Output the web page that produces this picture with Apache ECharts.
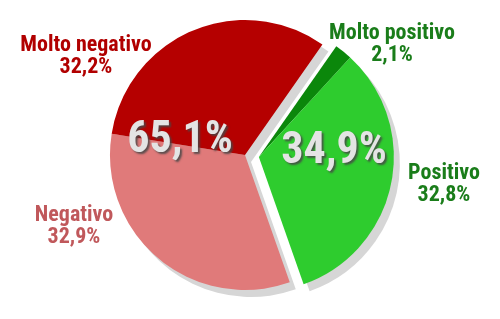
<!DOCTYPE html>
<html><head><meta charset="utf-8">
<script src="https://cdn.jsdelivr.net/npm/echarts@6/dist/echarts.min.js"></script>
<style>html,body{margin:0;padding:0;background:#fff}#c{width:500px;height:319px}</style>
</head><body><div id="c"></div>
<script>
// Data
var categories = ['Molto positivo', 'Positivo', 'Negativo', 'Molto negativo'];
var values = [2.1, 32.8, 32.9, 32.2];
var groupNames = ['Positivi', 'Negativi'];
var groupTotals = [34.9, 65.1];
var sliceColors = ['#0b870b', '#2ecc2e', '#e07a7a', '#b50000'];
var labelColors = ['#1a7d1a', '#1a7d1a', '#c0585b', '#b10000'];
var isPositive = [true, true, false, false];

var fmt = function (v) { return v.toFixed(1).replace('.', ','); };
var FONT = '"Roboto Condensed","Liberation Sans Narrow",sans-serif';

var CX = 245, CY = 155, R = 135;
var START = 55;
var OFF = 14;                // explode distance of positive group
var SX = 6, SY = 7;          // shadow offset
var posSum = values[0] + values[1];
var midDeg = (90 - START) + posSum / 100 * 180; // clockwise from top
var midRad = midDeg * Math.PI / 180;
var PCX = CX + OFF * Math.sin(midRad), PCY = CY - OFF * Math.cos(midRad);

// label anchor positions (text only), by category index / group index
var labelPos = [[392, 44], [444, 184], [74, 226], [86, 56]];
var totalPos = [[334, 152], [180, 141]];

function sliceData(showPositive) {
  return categories.map(function (c, i) {
    var visible = isPositive[i] === showPositive;
    return {
      name: c, value: values[i],
      itemStyle: { color: visible ? sliceColors[i] : 'rgba(0,0,0,0)' },
      label: visible ? {
        show: true,
        formatter: c + '\n' + fmt(values[i]) + '%',
        color: labelColors[i], fontFamily: FONT, fontWeight: 'bold',
        fontSize: 22, lineHeight: 22, align: 'center'
      } : { show: false }
    };
  });
}
function shadowData(showPositive) {
  return [
    { name: groupNames[0], value: groupTotals[0], itemStyle: { color: showPositive ? '#d6d6d6' : 'rgba(0,0,0,0)' } },
    { name: groupNames[1], value: groupTotals[1], itemStyle: { color: showPositive ? 'rgba(0,0,0,0)' : '#d6d6d6' } }
  ];
}
function layoutFn(arr) {
  return function (p) {
    var pos = arr[p.dataIndex];
    if (!pos) return {};
    return { x: pos[0], y: pos[1], align: 'center', verticalAlign: 'middle' };
  };
}
var base = { type: 'pie', radius: R, startAngle: START, clockwise: true, animation: false, silent: true,
  labelLine: { show: false }, emphasis: { disabled: true }, minAngle: 0, avoidLabelOverlap: false };

var chart = echarts.init(document.getElementById('c'), null, { renderer: 'canvas' });
chart.setOption({
  backgroundColor: '#ffffff',
  series: [
    Object.assign({}, base, { z: 1, center: [CX + SX, CY + SY], data: shadowData(false), label: { show: false } }),
    Object.assign({}, base, { z: 1, center: [PCX + SX, PCY + SY], data: shadowData(true), label: { show: false } }),
    Object.assign({}, base, { z: 2, center: [CX, CY], data: sliceData(false), label: { position: 'outside' }, labelLayout: layoutFn(labelPos) }),
    Object.assign({}, base, { z: 3, center: [PCX, PCY], data: sliceData(true), label: { position: 'outside' }, labelLayout: layoutFn(labelPos) }),
    Object.assign({}, base, { z: 4, center: [CX, CY],
      data: groupNames.map(function (g, i) { return { name: g, value: groupTotals[i], itemStyle: { color: 'rgba(0,0,0,0)' } }; }),
      label: { show: true, position: 'inside', formatter: function (p) { return fmt(p.value) + '%'; },
        color: '#e4e4e4', fontFamily: FONT, fontWeight: 'bold', fontSize: 44,
        textShadowColor: 'rgba(70,70,70,0.85)', textShadowOffsetX: 2, textShadowOffsetY: 2, textShadowBlur: 2 },
      labelLayout: layoutFn(totalPos) })
  ]
});
</script></body></html>
